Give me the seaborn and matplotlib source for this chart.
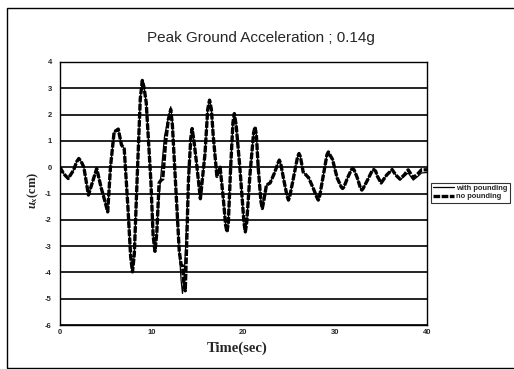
import matplotlib
matplotlib.use("Agg")
import matplotlib.pyplot as plt
import seaborn as sns
import pandas as pd
from matplotlib.patches import Rectangle

# ---- data ----
t_with = [0.0, 0.4, 0.9, 1.5, 1.8, 2.05, 2.3, 2.6, 3.1, 3.6, 4.0, 4.5, 4.9, 5.2, 5.5, 5.9, 6.35, 6.7, 7.0,
          7.4, 7.7, 7.9, 8.1, 8.4, 8.75, 8.97, 9.15, 9.4, 9.9, 10.15, 10.35, 10.55, 10.7, 11.0, 11.4, 11.8,
          12.07, 12.25, 12.5, 13.0, 13.2, 13.35, 13.5, 13.7, 14.0, 14.25, 14.4, 14.6, 14.9, 15.3, 15.8,
          16.1, 16.3, 16.5, 16.7, 17.1, 17.45, 17.8, 18.05, 18.2, 18.35, 18.6, 18.85, 19.0, 19.2, 19.6,
          20.05, 20.2, 20.35, 20.7, 21.1, 21.25, 21.4, 21.6, 21.9, 22.05, 22.2, 22.5, 22.9, 23.4, 23.75,
          23.9, 24.05, 24.4, 24.75, 24.9, 25.05, 25.5, 25.9, 26.05, 26.2, 26.5, 27.1, 27.6, 28.0, 28.15,
          28.3, 28.7, 29.1, 29.25, 29.4, 29.7, 30.2, 30.65, 30.8, 30.95, 31.35, 31.75, 31.9, 32.05, 32.4,
          32.75, 32.9, 33.05, 33.5, 34.0, 34.2, 34.4, 34.6, 35.0, 35.6, 36.2, 36.6, 37.05, 37.5, 37.95,
          38.5, 39.0, 39.4, 40.0]
u_with = [0.0, -0.25, -0.43, -0.1, 0.2, 0.33, 0.22, 0.0, -1.06, -0.5, -0.05, -0.8, -1.3, -1.7, 0.0, 1.34, 1.45, 0.85, 0.7,
          -1.5, -3.4, -3.98, -3.3, -0.5, 2.6, 3.3, 3.05, 2.45, -0.5, -2.6, -3.2, -2.5, -1.5, -0.3, 1.2, 1.85,
          2.3, 1.7, 0.0, -3.2, -4.3, -4.8, -4.3, -3.0, -0.5, 1.1, 1.47, 1.0, 0.1, -1.2, 0.5,
          2.2, 2.55, 2.2, 1.2, -0.35, 0.0, -1.2, -2.2, -2.46, -2.1, 0.0, 1.7, 2.04, 1.6, 0.0,
          -2.1, -2.46, -2.1, -0.3, 1.3, 1.53, 1.25, 0.0, -1.3, -1.57, -1.3, -0.68, -0.6, -0.2, 0.15,
          0.27, 0.15, -0.5, -1.1, -1.25, -1.1, -0.3, 0.4, 0.52, 0.4, -0.18, -0.4, -0.8, -1.15, -1.25,
          -1.1, -0.3, 0.48, 0.58, 0.48, 0.3, -0.4, -0.75, -0.81, -0.75, -0.4, -0.1, -0.05, -0.1, -0.4,
          -0.8, -0.87, -0.8, -0.5, -0.15, -0.09, -0.15, -0.35, -0.6, -0.3, -0.09, -0.3, -0.49, -0.35, -0.22,
          -0.49, -0.35, -0.22, -0.2]

t_no = [0.0, 0.4, 0.9, 1.5, 1.8, 2.05, 2.3, 2.6, 3.1, 3.6, 4.0, 4.5, 4.9, 5.2, 5.5, 5.9, 6.35, 6.7, 7.0,
        7.4, 7.7, 7.9, 8.1, 8.4, 8.75, 8.97, 9.15, 9.4, 9.9, 10.15, 10.35, 10.55, 10.8, 11.0, 11.2, 11.5,
        11.8, 12.07, 12.25, 12.5, 13.0, 13.2, 13.35, 13.5, 13.65, 13.8, 14.0, 14.25, 14.4, 14.6, 14.9,
        15.3, 15.8, 16.1, 16.3, 16.5, 16.7, 17.1, 17.45, 17.8, 18.05, 18.2, 18.35, 18.6, 18.85, 19.0,
        19.2, 19.6, 20.05, 20.2, 20.35, 20.7, 21.1, 21.25, 21.4, 21.6, 21.9, 22.05, 22.2, 22.5, 22.9,
        23.4, 23.75, 23.9, 24.05, 24.4, 24.75, 24.9, 25.05, 25.5, 25.9, 26.05, 26.2, 26.5, 27.1, 27.6,
        28.0, 28.15, 28.3, 28.7, 29.1, 29.25, 29.4, 29.7, 30.2, 30.65, 30.8, 30.95, 31.35, 31.75, 31.9,
        32.05, 32.4, 32.75, 32.9, 33.05, 33.5, 34.0, 34.2, 34.4, 34.6, 35.0, 35.6, 36.2, 36.6, 37.05,
        37.5, 37.95, 38.5, 39.0, 39.4, 40.0]
u_no = [0.0, -0.25, -0.43, -0.1, 0.2, 0.33, 0.22, 0.0, -1.06, -0.5, -0.05, -0.8, -1.3, -1.7, 0.0, 1.34, 1.45, 0.85, 0.7,
        -1.5, -3.4, -3.98, -3.3, -0.5, 2.6, 3.3, 3.05, 2.45, -0.5, -2.6, -3.2, -2.5, -0.6, -0.5, -0.45, 0.9,
        1.8, 2.2, 1.6, 0.0, -3.2, -3.7, -3.75, -4.4, -4.7, -3.0, -0.5, 1.1, 1.47, 1.0, 0.1,
        -1.2, 0.5, 2.2, 2.55, 2.2, 1.2, -0.35, 0.0, -1.2, -2.2, -2.46, -2.1, 0.0, 1.7, 2.04,
        1.6, 0.0, -2.1, -2.46, -2.1, -0.3, 1.3, 1.53, 1.25, 0.0, -1.3, -1.57, -1.3, -0.68, -0.6,
        -0.2, 0.15, 0.27, 0.15, -0.5, -1.1, -1.25, -1.1, -0.3, 0.4, 0.52, 0.4, -0.18, -0.4, -0.8,
        -1.15, -1.25, -1.1, -0.3, 0.48, 0.58, 0.48, 0.3, -0.4, -0.75, -0.81, -0.75, -0.4, -0.1, -0.05,
        -0.1, -0.4, -0.8, -0.87, -0.8, -0.5, -0.15, -0.09, -0.15, -0.35, -0.6, -0.3, -0.09, -0.3, -0.45,
        -0.3, -0.1, -0.4, -0.25, -0.1, -0.1]

y_ticks = [4, 3, 2, 1, 0, -1, -2, -3, -4, -5, -6]
x_ticks = [0, 10, 20, 30, 40]
title_text = "Peak Ground Acceleration ; 0.14g"
series_names = ["with pounding", "no pounding"]

# ---- style ----
sns.set_style("white")
plt.rcParams['font.family'] = ['Liberation Sans', 'DejaVu Sans']
plt.rcParams['mathtext.fontset'] = 'custom'
plt.rcParams['mathtext.it'] = 'Liberation Serif:bold:italic'
plt.rcParams['mathtext.rm'] = 'Liberation Serif:bold'

W, H = 514, 369
fig = plt.figure(figsize=(W / 100, H / 100), dpi=100)
fig.patch.set_facecolor('white')
ax = fig.add_axes([60 / W, 1 - 325 / H, 367 / W, 263 / H])

df_with = pd.DataFrame({"t": t_with, "u": u_with})
df_no = pd.DataFrame({"t": t_no, "u": u_no})

for yv in y_ticks:
    ax.axhline(yv, color='black', lw=1.2, zorder=1)

sns.lineplot(data=df_no, x="t", y="u", ax=ax, color='black', lw=2.4, sort=False,
             dashes=False, label=series_names[1], zorder=3)
ax.lines[-1].set_dashes([2.0, 0.45])
sns.lineplot(data=df_with, x="t", y="u", ax=ax, color='black', lw=0.9, sort=False,
             label=series_names[0], zorder=4)

ax.set_xlim(0, 40)
ax.set_ylim(-6, 4)
ax.set_xticks(x_ticks)
ax.set_yticks(y_ticks)
ax.set_xticklabels([str(v) for v in x_ticks], fontsize=5.5, fontweight='bold')
ax.set_yticklabels([str(v) for v in y_ticks], fontsize=5.5, fontweight='bold')
ax.tick_params(axis='both', length=0)
ax.tick_params(axis='y', pad=6)
ax.tick_params(axis='x', pad=3)
for s in ax.spines.values():
    s.set_color('black')
    s.set_linewidth(1.0)

ax.set_xlabel("")
ax.set_ylabel("")
ax.get_legend().remove()

fig.text(237 / W, 1 - 348 / H, "Time(sec)", ha='center', va='center',
         family='Liberation Serif', fontweight='bold', fontsize=10.5)
fig.text(33 / W, 1 - 190 / H, "$u_x$(cm)", ha='center', va='center', rotation=90,
         family='Liberation Serif', fontweight='bold', fontsize=9)
fig.text(261 / W, 1 - 38 / H, title_text, ha='center', va='center', fontsize=11)

# legend (order: with pounding, no pounding)
h, l = ax.get_legend_handles_labels()
order = [l.index(series_names[0]), l.index(series_names[1])]
leg = fig.legend([h[i] for i in order], [l[i] for i in order], loc='upper left',
                 bbox_to_anchor=(431 / W, 1 - 182.5 / H), fontsize=5.4, frameon=True,
                 fancybox=False, handlelength=2.7, handletextpad=0.35, borderpad=0.3,
                 labelspacing=0.15, borderaxespad=0)
leg.get_frame().set_edgecolor('black')
leg.get_frame().set_linewidth(0.8)
for txt in leg.get_texts():
    txt.set_fontweight('bold')

fig.patches.append(Rectangle((7 / W, 1 / H), 1.2, (368 - 8) / H, transform=fig.transFigure,
                             fill=False, edgecolor='black', lw=1.0))

fig.savefig("out.png", dpi=100)
